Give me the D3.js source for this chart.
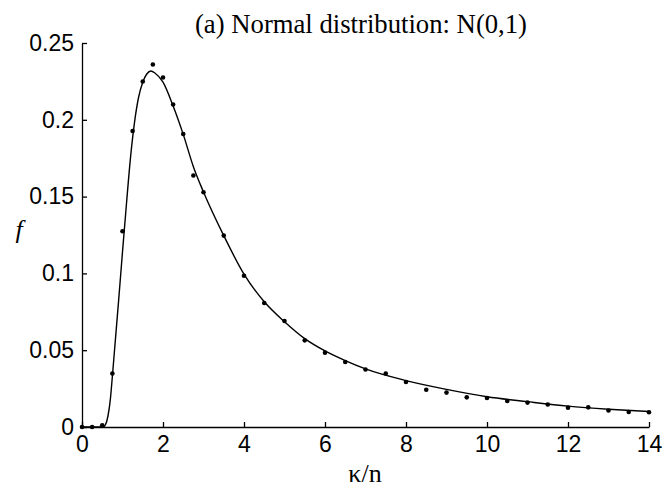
<!DOCTYPE html>
<html>
<head>
<meta charset="utf-8">
<title>Normal distribution N(0,1)</title>
<script src="https://d3js.org/d3.v7.min.js"></script>
<style>
  body { margin: 0; background: #fff; }
  .axis path, .axis line { stroke: #000; stroke-width: 1.3px; fill: none; }
  .axis text { font-family: "Liberation Sans", Arial, sans-serif; font-size: 23px; fill: #000; }
  .serif { font-family: "Liberation Serif", "Times New Roman", "DejaVu Serif", serif; fill: #000; }
</style>
</head>
<body>
<script>
// measured points (dots)
var dotX = [0, 0.25, 0.5, 0.75, 1, 1.25, 1.5, 1.75, 2, 2.25, 2.5, 2.75, 3, 3.5, 4, 4.5, 5, 5.5, 6, 6.5,
            7, 7.5, 8, 8.5, 9, 9.5, 10, 10.5, 11, 11.5, 12, 12.5, 13, 13.5, 14];
var dotY = [0, 0, 0.0011, 0.0348, 0.1274, 0.1927, 0.2249, 0.236, 0.2275, 0.21, 0.1908, 0.1637, 0.1528, 0.1246, 0.0985, 0.0807, 0.069, 0.0564, 0.0484, 0.0423,
            0.0374, 0.0348, 0.0293, 0.0243, 0.0224, 0.0193, 0.0189, 0.0169, 0.0159, 0.0146, 0.0126, 0.0128, 0.0107, 0.0098, 0.0096];

// fitted curve
var curveX = [0, 0.52, 0.58, 0.64, 0.7, 0.75, 0.8, 0.9, 1.0, 1.1, 1.2, 1.3, 1.4, 1.5, 1.6, 1.7, 1.8, 2, 2.25, 2.5, 2.75, 3,
              3.5, 4, 4.5, 5, 5.5, 6, 6.5, 7, 8, 9, 10, 11, 12, 13, 14];
var curveY = [0, 0, 0.0015, 0.007, 0.018, 0.033, 0.049, 0.081, 0.114, 0.146, 0.176, 0.199, 0.215, 0.2245, 0.2298, 0.2318, 0.2305, 0.2245, 0.209, 0.1905, 0.1695, 0.153,
              0.1246, 0.0995, 0.0815, 0.0685, 0.0575, 0.0495, 0.0432, 0.0378, 0.0302, 0.0245, 0.0197, 0.0165, 0.0136, 0.0116, 0.0101];

var xTicks = [0, 2, 4, 6, 8, 10, 12, 14];
var yTicks = [0, 0.05, 0.1, 0.15, 0.2, 0.25];

var W = 668, H = 495;
var margin = {top: 43, right: 19, bottom: 68, left: 82};
var width = W - margin.left - margin.right,
    height = H - margin.top - margin.bottom;

var svg = d3.select("body").append("svg")
    .attr("width", W).attr("height", H);
var g = svg.append("g")
    .attr("transform", "translate(" + margin.left + "," + margin.top + ")");

var x = d3.scaleLinear().domain([0, 14]).range([0, width]);
var y = d3.scaleLinear().domain([0, 0.25]).range([height, 0]);

g.append("g")
  .attr("class", "axis")
  .attr("transform", "translate(0," + height + ")")
  .call(d3.axisBottom(x).tickValues(xTicks).tickFormat(d3.format("d"))
        .tickSizeInner(-5).tickSizeOuter(0).tickPadding(9));

g.append("g")
  .attr("class", "axis")
  .call(d3.axisLeft(y).tickValues(yTicks).tickFormat(function (d) { return d === 0 ? "0" : String(+d.toFixed(2)); })
        .tickSizeInner(-5).tickSizeOuter(0).tickPadding(8));

g.selectAll(".axis .tick text").attr("fill", "#000");

var line = d3.line()
  .x(function (d, i) { return x(curveX[i]); })
  .y(function (d) { return y(d); })
  .curve(d3.curveMonotoneX);

g.append("path")
  .datum(curveY)
  .attr("d", line)
  .attr("fill", "none")
  .attr("stroke", "#000")
  .attr("stroke-width", 1.4);

g.selectAll(".dot")
  .data(dotY)
  .enter().append("circle")
  .attr("class", "dot")
  .attr("cx", function (d, i) { return x(dotX[i]); })
  .attr("cy", function (d) { return y(d); })
  .attr("r", 2.3)
  .attr("fill", "#000");

svg.append("text")
  .attr("class", "serif")
  .attr("x", 361).attr("y", 33)
  .attr("text-anchor", "middle")
  .style("font-size", "26.7px")
  .text("(a) Normal distribution: N(0,1)");

svg.append("text")
  .attr("class", "serif")
  .attr("x", 19).attr("y", 238)
  .attr("text-anchor", "middle")
  .style("font-size", "26px")
  .style("font-style", "italic")
  .text("f");

svg.append("text")
  .attr("class", "serif")
  .attr("x", 365).attr("y", 482)
  .attr("text-anchor", "middle")
  .style("font-size", "26px")
  .text("κ/n");
</script>
</body>
</html>
